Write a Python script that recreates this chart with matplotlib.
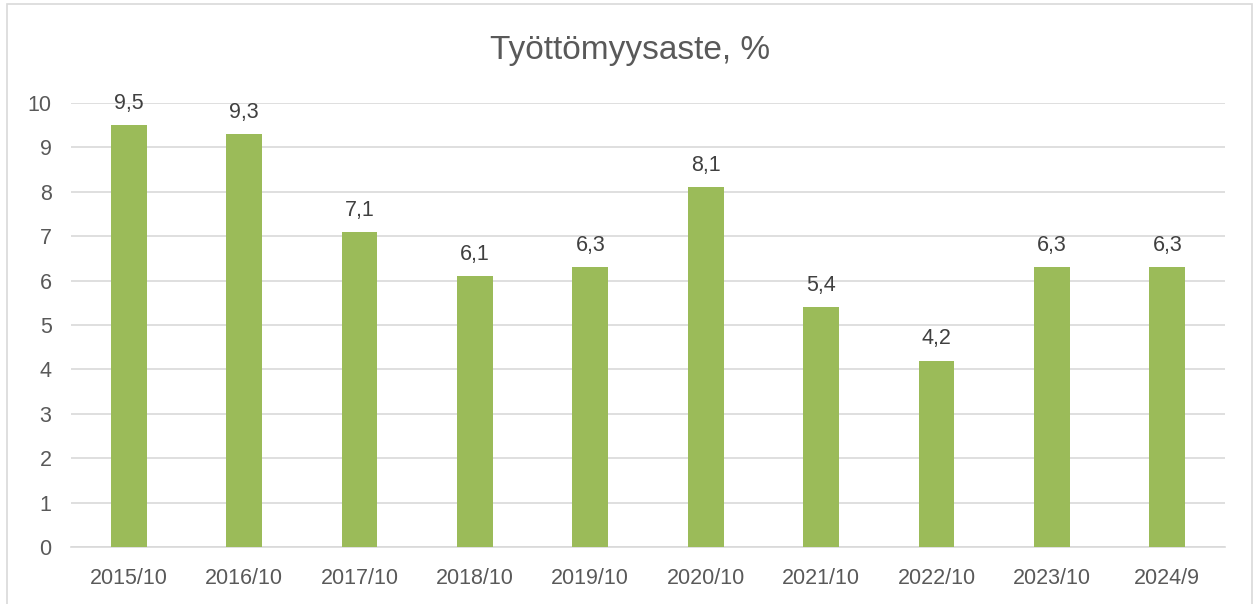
import matplotlib
matplotlib.use('Agg')
import matplotlib.pyplot as plt
from matplotlib.patches import Rectangle

categories = ['2015/10', '2016/10', '2017/10', '2018/10', '2019/10',
              '2020/10', '2021/10', '2022/10', '2023/10', '2024/9']
values = [9.5, 9.3, 7.1, 6.1, 6.3, 8.1, 5.4, 4.2, 6.3, 6.3]

C_BAR = '#9BBB59'
C_TEXT = '#595959'
C_GRID = '#D9D9D9'

plt.rcParams['font.family'] = ['Liberation Sans', 'DejaVu Sans']

fig = plt.figure(figsize=(12.55, 6.04), dpi=100)
ax = fig.add_axes([71 / 1255, 1 - 547 / 604, (1225 - 71) / 1255, (547 - 103) / 604])

x = range(len(categories))
ax.bar(x, values, width=0.31, color=C_BAR, zorder=3)
for xi, v in zip(x, values):
    ax.annotate(f'{v:.1f}'.replace('.', ','), (xi, v), xytext=(0, 8),
                textcoords='offset points', ha='center', va='bottom',
                fontsize=15.5, color='#404040')

ax.set_xlim(-0.5, len(categories) - 0.5)
ax.set_ylim(0, 10)
ax.set_yticks(range(0, 11))
ax.set_xticks(list(x))
ax.set_xticklabels(categories)
ax.tick_params(axis='both', length=0, labelsize=15.5, labelcolor=C_TEXT)
ax.tick_params(axis='x', pad=15)
ax.tick_params(axis='y', pad=14)
ax.yaxis.grid(True, color=C_GRID, lw=1.2, zorder=0)
for s in ['top', 'right', 'left']:
    ax.spines[s].set_visible(False)
ax.spines['bottom'].set_color(C_GRID)
ax.spines['bottom'].set_linewidth(1.2)

fig.text(0.502, 1 - 50 / 604, 'Työttömyysaste, %', ha='center', va='center',
         fontsize=24, color=C_TEXT)

fig.patches.append(Rectangle((7 / 1255, -0.01), 1245 / 1255, 1 - 4 / 604 + 0.01,
                             transform=fig.transFigure, fill=False,
                             edgecolor=C_GRID, lw=1.2))

fig.savefig('out.png', dpi=100)
plt.close(fig)
